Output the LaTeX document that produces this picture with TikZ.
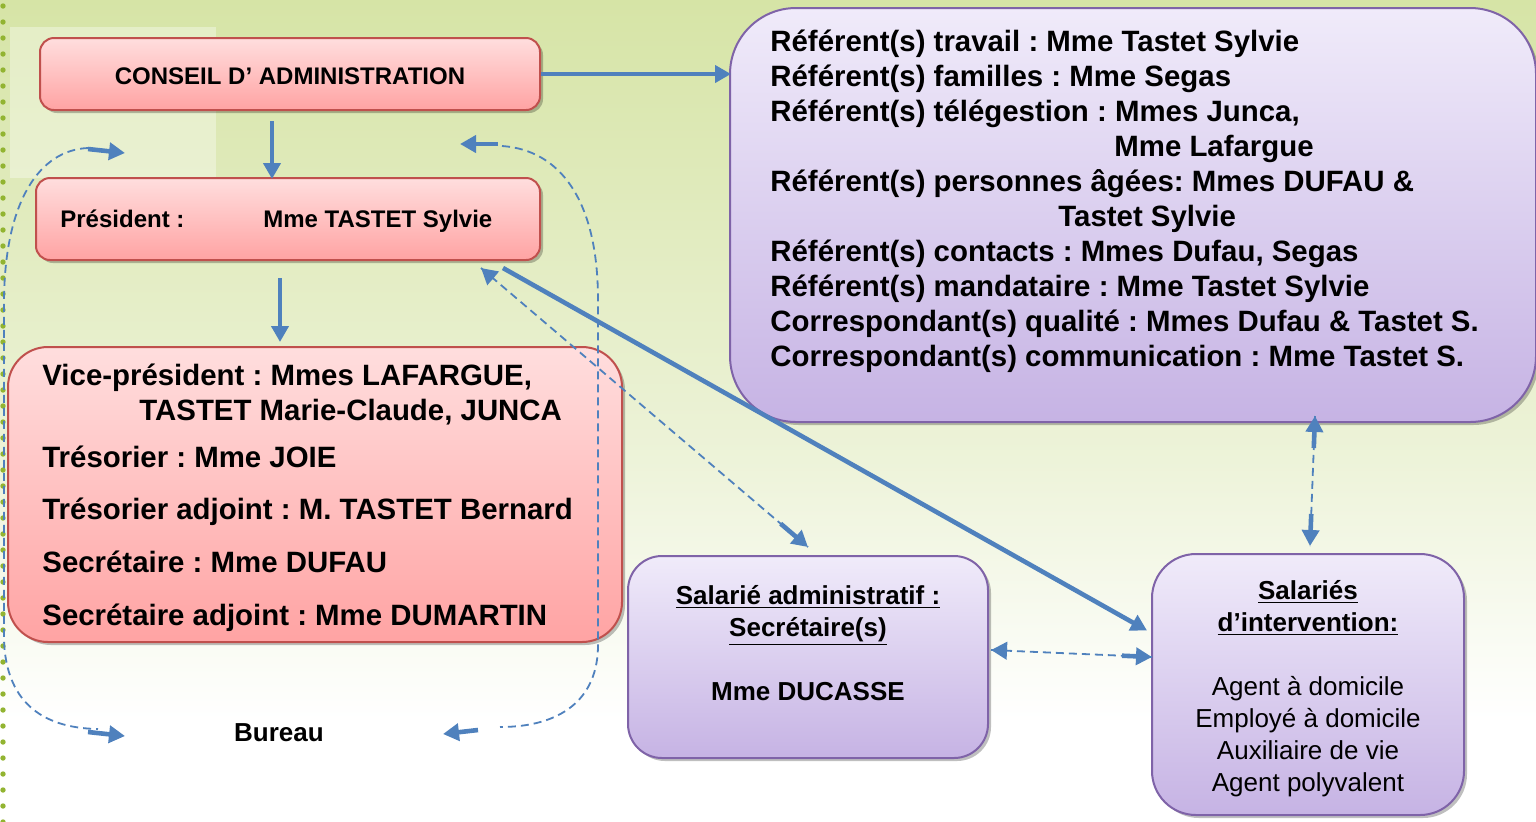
\documentclass[tikz,border=0pt]{standalone}
\usepackage{fontspec}
\setmainfont{Liberation Sans}
\usetikzlibrary{arrows.meta,calc,shadows}
\frenchspacing
\definecolor{arrblue}{HTML}{4F81BD}
\definecolor{pinkborder}{HTML}{C0504D}
\definecolor{pinktop}{HTML}{FFDEDE}
\definecolor{pinkbot}{HTML}{FFA3A3}
\definecolor{lavtop}{HTML}{F0EBFA}
\definecolor{lavbot}{HTML}{C6B3E4}
\definecolor{lavborder}{HTML}{7F63A8}
\definecolor{bgtop}{HTML}{D6E4A6}
\definecolor{bgmid}{HTML}{EDF3D9}
\definecolor{dotgreen}{HTML}{92B431}
\pgfdeclareverticalshading{bgshade}{100bp}{color(0bp)=(white); color(25bp)=(white); color(31bp)=(white); color(47bp)=(bgmid); color(75bp)=(bgtop); color(100bp)=(bgtop)}
\tikzset{
  pinkbox/.style={draw=pinkborder, line width=1pt, top color=pinktop, bottom color=pinkbot, inner sep=0pt,
    drop shadow={shadow xshift=1.5pt, shadow yshift=-1.5pt, opacity=0.25, fill=black}},
  lavbox/.style={draw=lavborder, line width=1pt, top color=lavtop, bottom color=lavbot, inner sep=0pt,
    drop shadow={shadow xshift=1.5pt, shadow yshift=-1.5pt, opacity=0.25, fill=black}},
  big/.style={font=\bfseries\fontsize{14.7}{17.5}\selectfont, inner sep=0pt},
  mid/.style={font=\bfseries\fontsize{12}{14}\selectfont, inner sep=0pt},
  sal/.style={font=\bfseries\fontsize{13}{16}\selectfont, inner sep=0pt},
  salr/.style={font=\fontsize{13}{16}\selectfont, inner sep=0pt},
  arr/.style={draw=arrblue, line width=2.3pt, -{Triangle[length=8pt,width=8.5pt]}},
  dl/.style={draw=arrblue, line width=0.9pt, dash pattern=on 4pt off 2.5pt},
}
\begin{document}
\begin{tikzpicture}[x=0.5pt,y=-0.5pt]
\useasboundingbox (0,0) rectangle (1536,821);
\shade[shading=bgshade] (0,0) rectangle (1536,821);
\fill[white, opacity=0.35] (10,27) rectangle (216,178);
\foreach \k in {0,...,51} \fill[dotgreen] (3,{6+16*\k}) circle (1.35pt);

% boxes
\node[pinkbox, rounded corners=7pt, minimum width=250pt, minimum height=36pt] (conseil) at (290,74) {};
\node[pinkbox, rounded corners=7pt, minimum width=252pt, minimum height=41pt] (pres) at (288,219) {};
\node[pinkbox, rounded corners=20pt, minimum width=307pt, minimum height=147.5pt] (vice) at (315,494.5) {};
\node[lavbox, rounded corners=33pt, minimum width=403pt, minimum height=207pt] (ref) at (1133,215) {};
\node[lavbox, rounded corners=17pt, minimum width=180pt, minimum height=101pt] (admin) at (808,657) {};
\node[lavbox, rounded corners=22pt, minimum width=156pt, minimum height=130.5pt] (interv) at (1308,684.5) {};

% texts
\node[mid, anchor=base] (tconseil) at (290,84) {CONSEIL D’ ADMINISTRATION};
\node[mid, anchor=base west] (tpres1) at (60,227) {Président :};
\node[mid, anchor=base west] (tpres2) at (263,227) {Mme TASTET Sylvie};

\node[big, anchor=base west] (v1) at (42,385) {Vice-président : Mmes LAFARGUE,};
\node[big, anchor=base west] (v2) at (139,420) {TASTET Marie-Claude, JUNCA};
\node[big, anchor=base west] (v3) at (42,467) {Trésorier : Mme JOIE};
\node[big, anchor=base west] (v4) at (42,519) {Trésorier adjoint : M. TASTET Bernard};
\node[big, anchor=base west] (v5) at (42,572) {Secrétaire : Mme DUFAU};
\node[big, anchor=base west] (v6) at (42,625) {Secrétaire adjoint : Mme DUMARTIN};

\node[big, anchor=base west] (r1) at (770,51) {Référent(s) travail : Mme Tastet Sylvie};
\node[big, anchor=base west] (r2) at (770,86) {Référent(s) familles : Mme Segas};
\node[big, anchor=base west] (r3) at (770,121) {Référent(s) télégestion : Mmes Junca,};
\node[big, anchor=base west] (r4) at (1114,156) {Mme Lafargue};
\node[big, anchor=base west] (r5) at (770,191) {Référent(s) personnes âgées: Mmes DUFAU \&};
\node[big, anchor=base west] (r6) at (1058,226) {Tastet Sylvie};
\node[big, anchor=base west] (r7) at (770,261) {Référent(s) contacts : Mmes Dufau, Segas};
\node[big, anchor=base west] (r8) at (770,296) {Référent(s) mandataire : Mme Tastet Sylvie};
\node[big, anchor=base west] (r9) at (770,331) {Correspondant(s) qualité : Mmes Dufau \& Tastet S.};
\node[big, anchor=base west] (r10) at (770,366) {Correspondant(s) communication : Mme Tastet S.};

\node[sal, anchor=base] (a1) at (808,604) {\underline{Salarié administratif :}};
\node[sal, anchor=base] (a2) at (808,636) {\underline{Secrétaire(s)}};
\node[sal, anchor=base] (a3) at (808,700) {Mme DUCASSE};

\node[sal, anchor=base] (i1) at (1308,599) {\underline{Salariés}};
\node[sal, anchor=base] (i2) at (1308,631) {\underline{d’intervention:}};
\node[salr, anchor=base] (i3) at (1308,695) {Agent à domicile};
\node[salr, anchor=base] (i4) at (1308,727) {Employé à domicile};
\node[salr, anchor=base] (i5) at (1308,759) {Auxiliaire de vie};
\node[salr, anchor=base] (i6) at (1308,791) {Agent polyvalent};

\node[sal, anchor=base] (bureau) at (279,741) {Bureau};

% solid connectors
\draw[arr] (conseil.east) -- ([xshift=1pt]ref.west |- conseil.east);
\coordinate (s2) at ([xshift=-9pt,yshift=-5pt]conseil.south);
\draw[arr] (s2) -- ([yshift=-1pt]s2 |- pres.north);
\coordinate (s3) at ([xshift=-4pt,yshift=-8.5pt]pres.south);
\draw[arr] (s3) -- ([yshift=2pt]s3 |- vice.north);
\draw[arr] ([xshift=-19pt,yshift=-3.5pt]pres.south east) -- ([xshift=-2pt,yshift=27pt]interv.west);

% dashed two-way connectors
\coordinate (p5a) at ([xshift=-30pt,yshift=-3.5pt]pres.south east);
\coordinate (p5b) at ([yshift=4pt]admin.north);
\draw[dl] (p5a) -- (p5b);
\draw[arr] ($(p5a)!8pt!(p5b)$) -- (p5a);
\draw[arr] ($(p5b)!18pt!(p5a)$) -- (p5b);

\coordinate (p6a) at ([xshift=1pt,yshift=3.5pt]admin.east);
\coordinate (p6b) at ([xshift=0.5pt,yshift=13.75pt]interv.west);
\draw[dl] (p6a) -- (p6b);
\draw[arr] ($(p6a)!8pt!(p6b)$) -- (p6a);
\draw[arr] ($(p6b)!15pt!(p6a)$) -- (p6b);

\coordinate (p7a) at ([xshift=3.5pt,yshift=3.5pt]ref.south -| interv.north);
\coordinate (p7b) at ([xshift=1pt,yshift=3.5pt]interv.north);
\draw[dl] (p7a) -- (p7b);
\draw[arr] ($(p7a)!16pt!(p7b)$) -- (p7a);
\draw[arr] ($(p7b)!16pt!(p7a)$) -- (p7b);

% Bureau loops
\coordinate (lt) at (125,153);
\coordinate (lb) at (125,736);
\coordinate (rt) at (460,144);
\coordinate (rb) at (443,734);
\draw[dl] (88,148) .. controls (40,150) and (5,200) .. (4,300) -- (4,640) .. controls (6,700) and (40,728) .. (98,729);
\draw[arr] (88,149) -- (lt);
\draw[arr] (88,732) -- (lb);
\draw[dl] (502,146) .. controls (560,150) and (598,200) .. (598,300) -- (598,645) .. controls (598,700) and (560,727) .. (500,727);
\draw[arr] (498,144) -- (rt);
\draw[arr] (478,730) -- (rb);
\end{tikzpicture}
\end{document}
